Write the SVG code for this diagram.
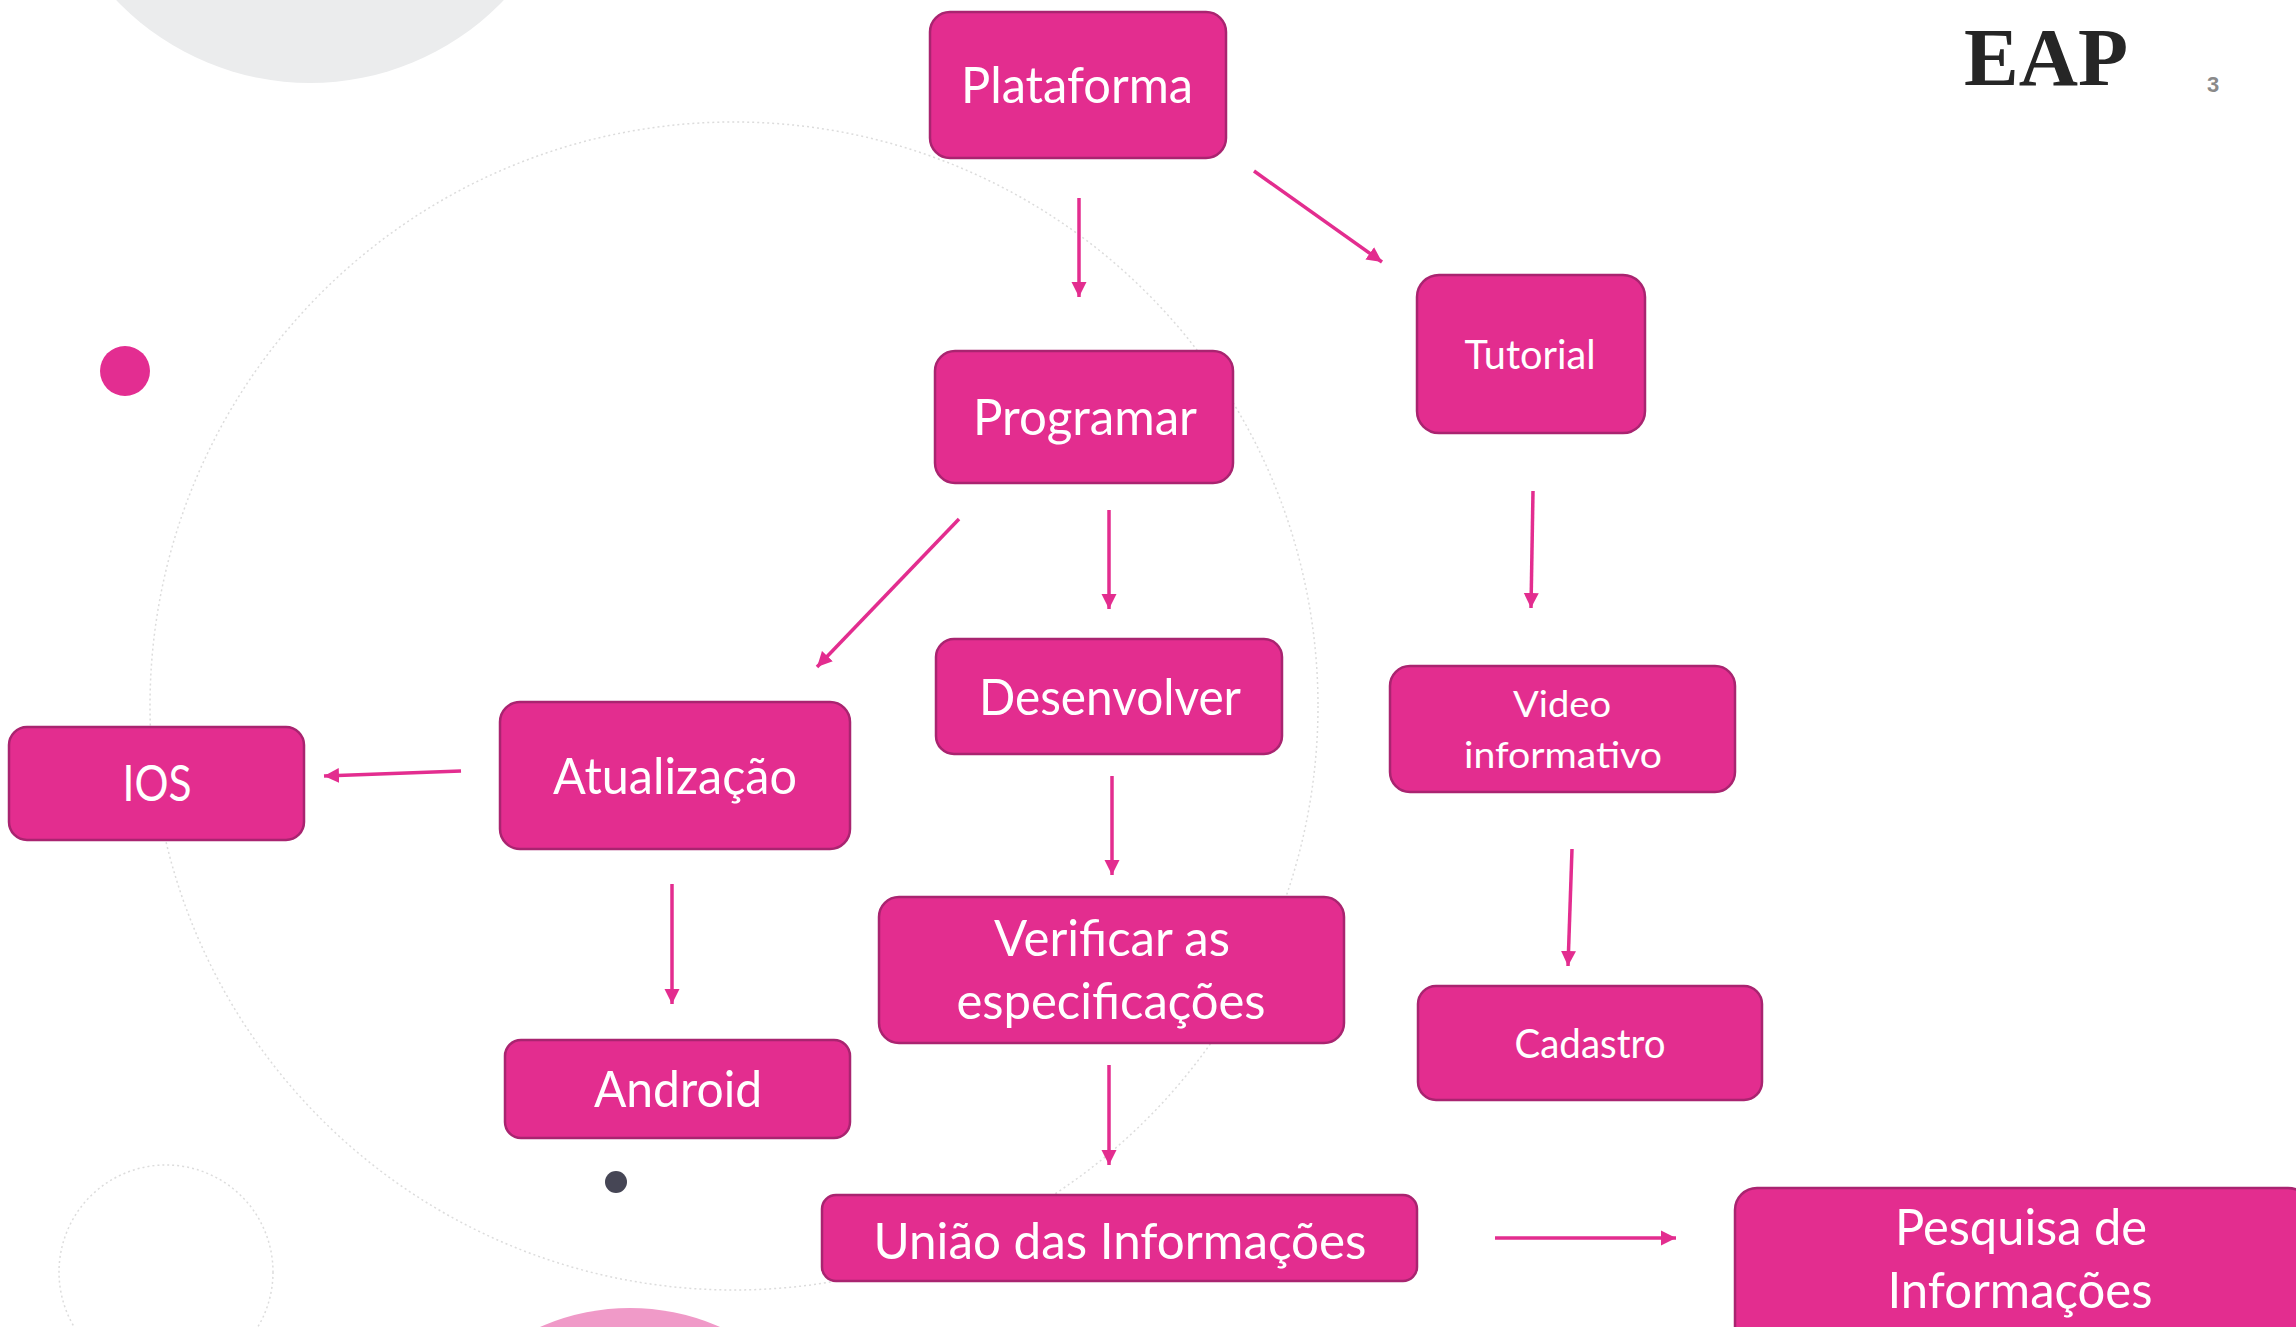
<svg xmlns="http://www.w3.org/2000/svg" width="2296" height="1327" viewBox="0 0 2296 1327">
<style>
.box{fill:#E32D8F;stroke:#A92470;stroke-width:2.5}
.t{font-family:Lato,"Open Sans",sans-serif;fill:#FFFFFF;text-anchor:middle;font-size:50px}
.s{font-size:40px}
.xs{font-size:36px}
.ln{stroke:#E32D8F;stroke-width:3.5;fill:none}
.deco{fill:none;stroke:#DCDCDC;stroke-width:1.5;stroke-dasharray:2 3}
</style>
<defs>
<marker id="ah" markerUnits="userSpaceOnUse" markerWidth="16" markerHeight="16" viewBox="0 0 16 16" refX="15" refY="8" orient="auto">
<path d="M0,0.5 L15,8 L0,15.5 Z" fill="#E32D8F"/>
</marker>
</defs>
<rect width="2296" height="1327" fill="#FFFFFF"/>
<g id="background">
<circle cx="310" cy="-185" r="268" fill="#EBECED"/>
<circle class="deco" cx="734" cy="706" r="584"/>
<circle class="deco" cx="166" cy="1272" r="107"/>
<circle cx="125" cy="371" r="25" fill="#E32D91"/>
<circle cx="616" cy="1182" r="11" fill="#464655"/>
<circle cx="630" cy="1531" r="223" fill="#F09AC8"/>
</g>
<g id="header">
<text x="2046" y="85" font-family="Liberation Serif,serif" font-weight="bold" font-size="82" fill="#262626" text-anchor="middle">EAP</text>
<text x="2213" y="92" font-family="Liberation Sans,sans-serif" font-weight="bold" font-size="22" fill="#8A8A8A" text-anchor="middle">3</text>
</g>
<g id="connectors">
<line class="ln" x1="1079" y1="198" x2="1079" y2="297" marker-end="url(#ah)"/>
<line class="ln" x1="1254" y1="171" x2="1382" y2="262" marker-end="url(#ah)"/>
<line class="ln" x1="959" y1="519" x2="817" y2="667" marker-end="url(#ah)"/>
<line class="ln" x1="1109" y1="510" x2="1109" y2="609" marker-end="url(#ah)"/>
<line class="ln" x1="1533" y1="491" x2="1531" y2="608" marker-end="url(#ah)"/>
<line class="ln" x1="461" y1="771" x2="324" y2="776" marker-end="url(#ah)"/>
<line class="ln" x1="672" y1="884" x2="672" y2="1004" marker-end="url(#ah)"/>
<line class="ln" x1="1112" y1="776" x2="1112" y2="875" marker-end="url(#ah)"/>
<line class="ln" x1="1109" y1="1065" x2="1109" y2="1165" marker-end="url(#ah)"/>
<line class="ln" x1="1572" y1="849" x2="1568" y2="966" marker-end="url(#ah)"/>
<line class="ln" x1="1495" y1="1238" x2="1676" y2="1238" marker-end="url(#ah)"/>
</g>
<g id="plataforma">
<rect class="box" x="930" y="12" width="296" height="146" rx="20"/>
<text class="t" x="1077" y="103" textLength="232" lengthAdjust="spacingAndGlyphs">Plataforma</text>
</g>
<g id="programar">
<rect class="box" x="935" y="351" width="298" height="132" rx="20"/>
<text class="t" x="1085" y="435" textLength="224" lengthAdjust="spacingAndGlyphs">Programar</text>
</g>
<g id="desenvolver">
<rect class="box" x="936" y="639" width="346" height="115" rx="18"/>
<text class="t" x="1110" y="715" textLength="262" lengthAdjust="spacingAndGlyphs">Desenvolver</text>
</g>
<g id="atualizacao">
<rect class="box" x="500" y="702" width="350" height="147" rx="20"/>
<text class="t" x="675" y="794" textLength="244" lengthAdjust="spacingAndGlyphs">Atualização</text>
</g>
<g id="ios">
<rect class="box" x="9" y="727" width="295" height="113" rx="18"/>
<text class="t" x="157" y="801" textLength="69" lengthAdjust="spacingAndGlyphs">IOS</text>
</g>
<g id="android">
<rect class="box" x="505" y="1040" width="345" height="98" rx="16"/>
<text class="t" x="678" y="1107" textLength="168" lengthAdjust="spacingAndGlyphs">Android</text>
</g>
<g id="verificar">
<rect class="box" x="879" y="897" width="465" height="146" rx="20"/>
<text class="t" x="1112" y="956" textLength="236" lengthAdjust="spacingAndGlyphs">Verificar as</text>
<text class="t" x="1111" y="1019" textLength="309" lengthAdjust="spacingAndGlyphs">especificações</text>
</g>
<g id="uniao">
<rect class="box" x="822" y="1195" width="595" height="86" rx="14"/>
<text class="t" x="1120" y="1259" textLength="493" lengthAdjust="spacingAndGlyphs">União das Informações</text>
</g>
<g id="tutorial">
<rect class="box" x="1417" y="275" width="228" height="158" rx="22"/>
<text class="t s" x="1530" y="369" textLength="131" lengthAdjust="spacingAndGlyphs">Tutorial</text>
</g>
<g id="video">
<rect class="box" x="1390" y="666" width="345" height="126" rx="20"/>
<text class="t xs" x="1562" y="717" textLength="98" lengthAdjust="spacingAndGlyphs">Video</text>
<text class="t xs" x="1563" y="768" textLength="198" lengthAdjust="spacingAndGlyphs">informativo</text>
</g>
<g id="cadastro">
<rect class="box" x="1418" y="986" width="344" height="114" rx="18"/>
<text class="t s" x="1590" y="1058" textLength="151" lengthAdjust="spacingAndGlyphs">Cadastro</text>
</g>
<g id="pesquisa">
<rect class="box" x="1735" y="1188" width="575" height="170" rx="22"/>
<text class="t" x="2021" y="1245" textLength="252" lengthAdjust="spacingAndGlyphs">Pesquisa de</text>
<text class="t" x="2020" y="1308" textLength="265" lengthAdjust="spacingAndGlyphs">Informações</text>
</g>
</svg>
